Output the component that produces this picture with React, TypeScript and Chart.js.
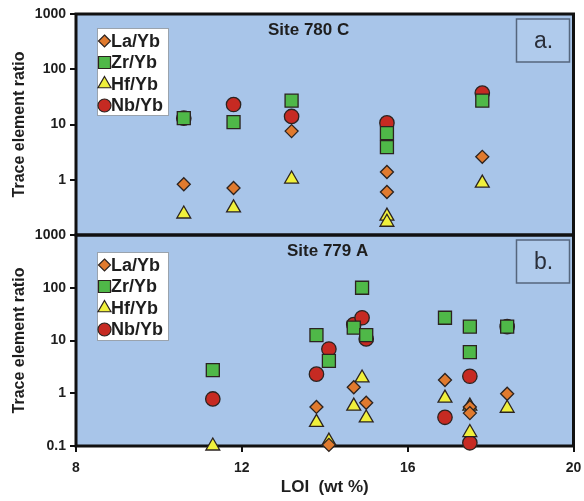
import React, { useEffect, useRef } from 'react';
import { Chart, registerables } from 'chart.js';

Chart.register(...registerables);

// ---- axis / tick data ----
const X_TICKS = [8, 12, 16, 20];
const Y_TICKS = [0.1, 1, 10, 100, 1000];
const SERIES_NAMES = ['La/Yb', 'Zr/Yb', 'Hf/Yb', 'Nb/Yb'];
const PANEL_TITLES = ['Site 780 C', 'Site 779 A'];
const PANEL_LETTERS = ['a.', 'b.'];

// ---- Site 780 C (panel a) ----
const laLoiA = [10.6, 11.8, 13.2, 15.5, 15.5, 17.8];
const laValA = [0.83, 0.71, 7.6, 1.38, 0.6, 2.6];
const zrLoiA = [10.6, 11.8, 13.2, 15.5, 15.5, 17.8];
const zrValA = [13, 11, 27, 7, 3.9, 27];
const hfLoiA = [10.6, 11.8, 13.2, 15.5, 15.5, 17.8];
const hfValA = [0.24, 0.31, 1.03, 0.22, 0.17, 0.87];
const nbLoiA = [10.6, 11.8, 13.2, 15.5, 17.8];
const nbValA = [13, 23, 14, 10.7, 37];

// ---- Site 779 A (panel b) ----
const laLoiB = [13.8, 14.1, 14.7, 15.0, 16.9, 17.5, 17.5, 18.4];
const laValB = [0.55, 0.105, 1.3, 0.66, 1.78, 0.55, 0.42, 0.98];
const zrLoiB = [11.3, 13.8, 14.1, 14.7, 14.9, 15.0, 16.9, 17.5, 17.5, 18.4];
const zrValB = [2.75, 12.6, 4.1, 17.5, 100, 12.6, 27, 18.3, 6, 18.3];
const hfLoiB = [11.3, 13.8, 14.1, 14.7, 14.9, 15.0, 16.9, 17.5, 17.5, 18.4];
const hfValB = [0.1, 0.28, 0.124, 0.57, 1.95, 0.34, 0.81, 0.57, 0.18, 0.52];
const nbLoiB = [11.3, 13.8, 14.1, 14.7, 14.9, 15.0, 16.9, 17.5, 17.5, 18.4];
const nbValB = [0.78, 2.3, 6.9, 20, 27, 10.7, 0.35, 2.1, 0.115, 18.3];

// ---- styles ----
const BG = 'rgb(168,197,233)';
const FILLS = ['#e07a2e', '#4fb848', '#f0f03c', '#c62a22'];
const EDGE = '#2b2320';
const STYLES: any[] = ['rectRot', 'rect', 'triangle', 'circle'];
const RADII = [6.5, 9.2, 8, 7.2];
const FONT = '"Liberation Sans", Arial, sans-serif';

const pts = (xs: number[], ys: number[]) => xs.map((x, i) => ({ x, y: ys[i] }));

function mkSet(i: number, data: any[], axis: string) {
  return {
    label: SERIES_NAMES[i],
    data,
    yAxisID: axis,
    pointStyle: STYLES[i],
    pointRadius: RADII[i],
    pointHoverRadius: RADII[i],
    backgroundColor: FILLS[i],
    borderColor: EDGE,
    borderWidth: 1.3,
    showLine: false,
    clip: false as any,
  };
}

function drawMarker(ctx: CanvasRenderingContext2D, i: number, x: number, y: number) {
  ctx.save();
  ctx.fillStyle = FILLS[i];
  ctx.strokeStyle = EDGE;
  ctx.lineWidth = 1.2;
  ctx.beginPath();
  if (i === 0) {
    const r = 6;
    ctx.moveTo(x, y - r); ctx.lineTo(x + r, y); ctx.lineTo(x, y + r); ctx.lineTo(x - r, y); ctx.closePath();
  } else if (i === 1) {
    ctx.rect(x - 6, y - 6, 12, 12);
  } else if (i === 2) {
    const r = 7.5;
    ctx.moveTo(x, y - r);
    ctx.lineTo(x + r * Math.sin(2 * Math.PI / 3), y - r * Math.cos(2 * Math.PI / 3));
    ctx.lineTo(x + r * Math.sin(4 * Math.PI / 3), y - r * Math.cos(4 * Math.PI / 3));
    ctx.closePath();
  } else {
    ctx.arc(x, y, 6.5, 0, Math.PI * 2);
  }
  ctx.fill();
  ctx.stroke();
  ctx.restore();
}

const panelPlugin = {
  id: 'panels',
  beforeDraw(chart: any) {
    const { ctx, chartArea } = chart;
    ctx.save();
    ctx.fillStyle = BG;
    ctx.fillRect(chartArea.left, chartArea.top, chartArea.right - chartArea.left, chartArea.bottom - chartArea.top);
    ctx.restore();
  },
  beforeDatasetsDraw(chart: any) {
    const { ctx } = chart;
    const panels = [chart.scales.yA, chart.scales.yB];
    const left = chart.chartArea.left;
    const right = chart.chartArea.right;
    ctx.save();
    ctx.strokeStyle = '#111';
    ctx.lineWidth = 3;
    panels.forEach((s: any) => {
      ctx.strokeRect(left, s.top, right - left, s.bottom - s.top);
    });
    ctx.restore();
  },
  afterDatasetsDraw(chart: any) {
    const { ctx } = chart;
    const panels = [chart.scales.yA, chart.scales.yB];
    const left = chart.chartArea.left;
    const right = chart.chartArea.right;
    const titleX = [268, 287];
    panels.forEach((s: any, p: number) => {
      const top = s.top;
      // legend box
      ctx.save();
      const lx = left + 21, ly = top + (p === 0 ? 14 : 17);
      const lh = p === 0 ? 87 : 88;
      ctx.fillStyle = '#ffffff';
      ctx.strokeStyle = '#9aa3ad';
      ctx.lineWidth = 1;
      ctx.fillRect(lx, ly, 71, lh);
      ctx.strokeRect(lx + 0.5, ly + 0.5, 71, lh);
      ctx.font = `bold 18px ${FONT}`;
      ctx.textBaseline = 'middle';
      ctx.textAlign = 'left';
      ctx.fillStyle = '#1e1e1e';
      SERIES_NAMES.forEach((name, i) => {
        const ry = ly + 13 + i * 21.5;
        drawMarker(ctx, i, lx + 7.5, ry);
        ctx.fillStyle = '#1e1e1e';
        ctx.fillText(name, lx + 14, ry + 1);
      });
      // panel title
      ctx.font = `bold 17px ${FONT}`;
      ctx.fillText(PANEL_TITLES[p], titleX[p], top + 16);
      // letter box
      const bx = right - 57, by = top + 5;
      ctx.fillStyle = 'rgb(176,203,236)';
      ctx.fillRect(bx, by, 53, 43);
      ctx.strokeStyle = '#55667d';
      ctx.lineWidth = 1.5;
      ctx.strokeRect(bx, by, 53, 43);
      ctx.fillStyle = '#2a2f3a';
      ctx.font = `23px ${FONT}`;
      ctx.textAlign = 'center';
      ctx.fillText(PANEL_LETTERS[p], bx + 27, by + 23);
      ctx.restore();
    });
  },
};

function yAxis(weight: number, hideBottom: boolean) {
  return {
    type: 'logarithmic' as const,
    position: 'left' as const,
    stack: 'ratio',
    stackWeight: weight,
    offset: false,
    min: 0.1,
    max: 1000,
    afterBuildTicks: (s: any) => { s.ticks = Y_TICKS.map((v) => ({ value: v })); },
    afterFit: (s: any) => { s.width = 76; s.paddingTop = 0; s.paddingBottom = 0; },
    ticks: {
      autoSkip: false,
      padding: 4,
      color: '#1e1e1e',
      font: { family: FONT, size: 14, weight: 'bold' as const },
      callback: (v: any) => (hideBottom && v === 0.1 ? '' : String(v)),
    },
    grid: { drawOnChartArea: false, drawTicks: true, tickLength: 6, color: '#111', lineWidth: 2 },
    border: { display: false },
    title: {
      display: true,
      text: 'Trace element ratio',
      color: '#1e1e1e',
      font: { family: FONT, size: 16, weight: 'bold' as const },
      padding: { top: 10, bottom: 0 },
    },
  };
}

export default function App() {
  const ref = useRef<HTMLCanvasElement>(null);
  useEffect(() => {
    if (!ref.current) return;
    const chart = new Chart(ref.current, {
      type: 'scatter',
      data: {
        datasets: [
          mkSet(0, pts(laLoiA, laValA), 'yA'),
          mkSet(1, pts(zrLoiA, zrValA), 'yA'),
          mkSet(2, pts(hfLoiA, hfValA), 'yA'),
          mkSet(3, pts(nbLoiA, nbValA), 'yA'),
          mkSet(0, pts(laLoiB, laValB), 'yB'),
          mkSet(1, pts(zrLoiB, zrValB), 'yB'),
          mkSet(2, pts(hfLoiB, hfValB), 'yB'),
          mkSet(3, pts(nbLoiB, nbValB), 'yB'),
        ] as any,
      },
      options: {
        animation: false,
        responsive: false,
        layout: { padding: { top: 14, right: 8, left: 0, bottom: 0 } },
        plugins: { legend: { display: false }, tooltip: { enabled: false } },
        scales: {
          x: {
            type: 'linear',
            min: X_TICKS[0],
            max: X_TICKS[X_TICKS.length - 1],
            afterBuildTicks: (s: any) => { s.ticks = X_TICKS.map((v) => ({ value: v })); },
            afterFit: (s: any) => { s.height = 55; s.paddingLeft = 0; s.paddingRight = 0; },
            ticks: {
              padding: 8,
              color: '#1e1e1e',
              font: { family: FONT, size: 14, weight: 'bold' },
            },
            grid: { drawOnChartArea: false, drawTicks: true, tickLength: 6, color: '#111', lineWidth: 2 },
            border: { display: false },
            title: {
              display: true,
              text: 'LOI  (wt %)',
              color: '#1e1e1e',
              font: { family: FONT, size: 17, weight: 'bold' },
              padding: { top: 0, bottom: 3 },
            },
          },
          yB: yAxis(211, false),
          yA: yAxis(221, true),
        } as any,
      },
      plugins: [panelPlugin],
    });
    return () => chart.destroy();
  }, []);
  return (
    <div style={{ position: 'fixed', left: 0, top: 0, width: 584, height: 501, background: '#fff' }}>
      <canvas ref={ref} width={584} height={501} style={{ display: 'block', width: 584, height: 501 }} />
    </div>
  );
}
